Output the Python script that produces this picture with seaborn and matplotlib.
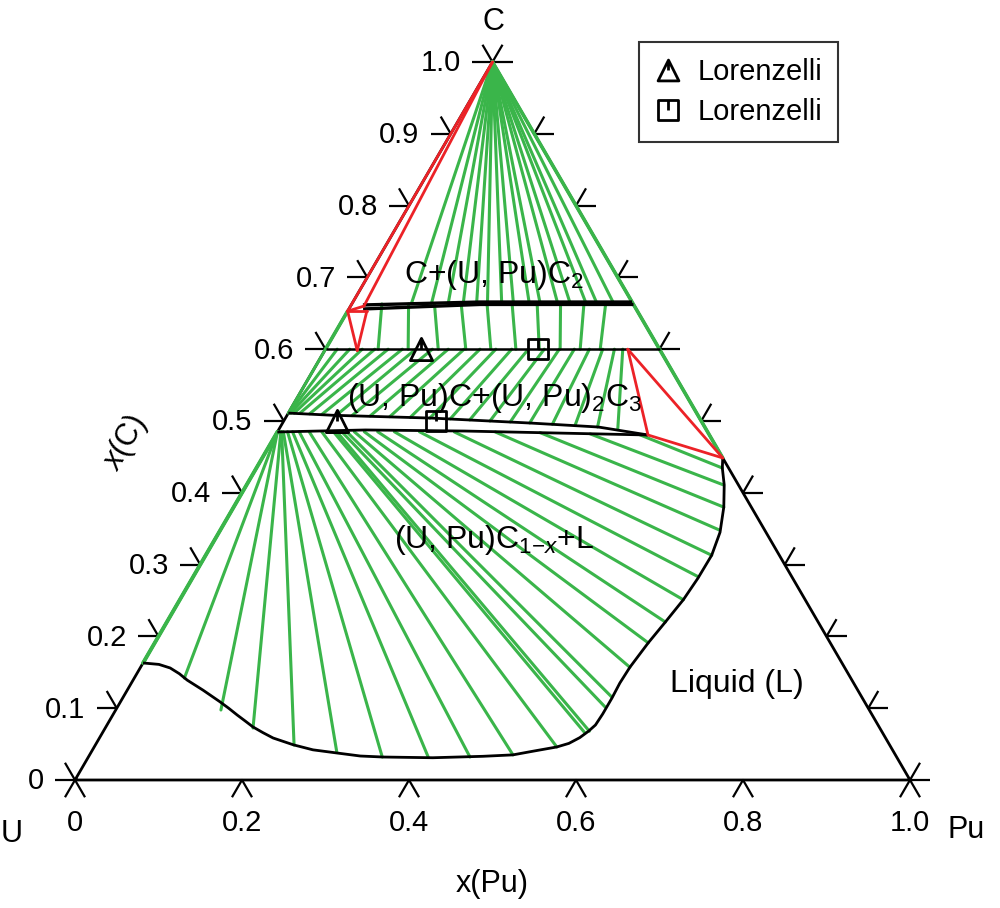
import numpy as np
import pandas as pd
import matplotlib
matplotlib.use("Agg")
import matplotlib.pyplot as plt
from matplotlib.path import Path
from matplotlib.lines import Line2D
import seaborn as sns

# ---------------- data: compositions (x(Pu), x(C)) ----------------
apex_xpu, apex_xc = 0.0, 1.0

# C + (U,Pu)C2 tie-lines (from pure C to the dicarbide line)
c2fan_xpu = [0.071, 0.095, 0.115, 0.133, 0.149, 0.162, 0.179, 0.193,
             0.212, 0.225, 0.246, 0.261, 0.280, 0.293, 0.313]
c2_xc = 0.664

# (U,Pu)C2 phase band (upper / lower boundary)
c2_up_xpu = [0.014, 0.152, 0.3343]
c2_up_xc = [0.6616, 0.6657, 0.6657]
c2_lo_xpu = [0.017, 0.154, 0.3377]
c2_lo_xc = [0.656, 0.6623, 0.6623]

# (U,Pu)C2 + (U,Pu)2C3 tie-lines
c2c3_top_xpu = [0.036, 0.068, 0.099, 0.131, 0.162, 0.192, 0.222, 0.250, 0.278, 0.304]
c2c3_bot_xpu = [0.063, 0.099, 0.135, 0.168, 0.198, 0.228, 0.256, 0.281, 0.305, 0.329]
c3_xc = 0.6

# (U,Pu)C1-x single phase lens
uc_top_xpu = [0.0, 0.054, 0.176, 0.299, 0.381, 0.446]
uc_top_xc = [0.511, 0.508, 0.504, 0.497, 0.4916, 0.4805]
uc_bot_xpu = [0.0, 0.104, 0.224, 0.345, 0.446]
uc_bot_xc = [0.4847, 0.4875, 0.486, 0.483, 0.4805]

# (U,Pu)C + (U,Pu)2C3 tie-lines (lens top -> x(C)=0.6 line)
c3uc_bot_xpu = [0.0, 0.001, 0.003, 0.007, 0.014, 0.026, 0.041, 0.059, 0.078, 0.100, 0.124,
                0.149, 0.173, 0.198, 0.222, 0.247, 0.272, 0.296, 0.324, 0.352, 0.380, 0.406]
c3uc_bot_xc = [0.511, 0.511, 0.511, 0.511, 0.511, 0.510, 0.509, 0.508, 0.5075, 0.507, 0.506,
               0.505, 0.504, 0.503, 0.5015, 0.500, 0.4987, 0.4973, 0.4955, 0.4936, 0.4916, 0.488]
c3uc_top_xpu = [0.0, 0.014, 0.029, 0.044, 0.059, 0.075, 0.092, 0.108, 0.128, 0.147, 0.166,
                0.185, 0.204, 0.223, 0.243, 0.262, 0.280, 0.298, 0.316, 0.332, 0.346, 0.356]

# (U,Pu)C1-x + L tie-lines (lens bottom -> liquidus)
ucl_s_xpu = [0.0, 0.0, 0.0, 0.004, 0.005, 0.007, 0.012, 0.018, 0.026, 0.038, 0.053, 0.067, 0.071,
             0.077, 0.083, 0.092, 0.104, 0.120, 0.140, 0.170, 0.212, 0.261, 0.315, 0.376, 0.436]
ucl_s_xc = [0.485, 0.485, 0.485, 0.485, 0.485, 0.485, 0.485, 0.485, 0.485, 0.485, 0.485, 0.485, 0.485,
            0.485, 0.485, 0.485, 0.485, 0.485, 0.485, 0.485, 0.4847, 0.4847, 0.4838, 0.482, 0.4808]
ucl_e_xpu = [0.0, 0.060, 0.126, 0.177, 0.238, 0.294, 0.352, 0.407, 0.457, 0.507, 0.554, 0.578, 0.582,
             0.584, 0.585, 0.586, 0.591, 0.597, 0.603, 0.605, 0.606, 0.598, 0.587, 0.571, 0.558]
ucl_e_xc = [0.163, 0.142, 0.0975, 0.0724, 0.0487, 0.039, 0.032, 0.032, 0.032, 0.035, 0.046, 0.0655, 0.068,
            0.1017, 0.1156, 0.157, 0.191, 0.220, 0.251, 0.283, 0.313, 0.348, 0.380, 0.411, 0.4345]

# liquidus boundary
liq_xpu = [0.0, 0.020, 0.036, 0.051, 0.065, 0.078, 0.091, 0.105, 0.119, 0.134, 0.149, 0.163, 0.176,
           0.192, 0.208, 0.237, 0.264, 0.295, 0.325, 0.353, 0.413, 0.472, 0.507, 0.528, 0.554, 0.566,
           0.575, 0.581, 0.585, 0.586, 0.586, 0.585, 0.586, 0.591, 0.597, 0.603, 0.6055, 0.606, 0.600,
           0.587, 0.572, 0.558, 0.5515]
liq_xc = [0.163, 0.161, 0.156, 0.148, 0.139, 0.132, 0.125, 0.117, 0.109, 0.100, 0.0905, 0.082, 0.074,
          0.066, 0.0585, 0.049, 0.042, 0.0376, 0.0334, 0.032, 0.031, 0.033, 0.035, 0.040, 0.046, 0.051,
          0.059, 0.068, 0.0766, 0.092, 0.114, 0.135, 0.157, 0.191, 0.220, 0.251, 0.281, 0.313, 0.345,
          0.380, 0.411, 0.4345, 0.4485]

# binary-edge tie segments (green)
edge_a_xpu = [0.0, 0.0]
edge_a_xc = [0.6, 0.653]
edge_b_xpu = [0.0, 0.5515]
edge_b_xc = [1.0, 0.4485]

# three-phase triangles (red): lists of segments
red_seg_xpu = [(0.0, 0.0), (0.0, 0.016), (0.0, 0.016), (0.0, 0.023), (0.0, 0.039), (0.023, 0.039),
               (0.362, 0.446), (0.362, 0.5515), (0.446, 0.5515)]
red_seg_xc = [(1.0, 0.653), (1.0, 0.660), (0.653, 0.660), (0.653, 0.653), (0.653, 0.598), (0.653, 0.598),
              (0.6, 0.4805), (0.6, 0.4485), (0.4805, 0.4485)]

# Lorenzelli experimental points
tri_xpu = [0.114, 0.064]
tri_xc = [0.6, 0.5]
sq_xpu = [0.254, 0.182]
sq_xc = [0.6, 0.5]

left_ticks = [0.0, 0.1, 0.2, 0.3, 0.4, 0.5, 0.6, 0.7, 0.8, 0.9, 1.0]
left_labels = ["0", "0.1", "0.2", "0.3", "0.4", "0.5", "0.6", "0.7", "0.8", "0.9", "1.0"]
bottom_ticks = [0.0, 0.2, 0.4, 0.6, 0.8, 1.0]
bottom_labels = ["0", "0.2", "0.4", "0.6", "0.8", "1.0"]

# ---------------- helpers ----------------
H = np.sqrt(3) / 2


def cart(xpu, xc):
    xpu = np.asarray(xpu, float)
    xc = np.asarray(xc, float)
    return xpu + 0.5 * xc, H * xc


GREEN = "#3AB54A"
RED = "#EC2227"

sns.set_theme(style="white")
plt.rcParams["font.family"] = ["Liberation Sans", "DejaVu Sans"]
plt.rcParams["text.color"] = "black"
plt.rcParams["mathtext.fontset"] = "custom"
plt.rcParams["mathtext.rm"] = "Liberation Sans"
plt.rcParams["mathtext.it"] = "Liberation Sans:italic"
plt.rcParams["mathtext.bf"] = "Liberation Sans:bold"

fig = plt.figure(figsize=(10, 9.08), dpi=100)
ax = fig.add_axes([0, 0, 1, 1])
ax.set_xlim(-75 / 835, 925 / 835)
ax.set_ylim(-128 / 829.1, 780 / 829.1)
ax.axis("off")

# ---------------- tie-lines via seaborn ----------------
rows = []


def add_ties(name, x1, c1, x2, c2):
    for i, (a, b, c, d) in enumerate(zip(x1, c1, x2, c2)):
        X, Y = cart([a, c], [b, d])
        rows.append({"tie": f"{name}{i}", "X": X[0], "Y": Y[0]})
        rows.append({"tie": f"{name}{i}", "X": X[1], "Y": Y[1]})


n = len(c2fan_xpu)
add_ties("cfan", [apex_xpu] * n, [apex_xc] * n, c2fan_xpu, [c2_xc] * n)
n = len(c2c3_top_xpu)
add_ties("c2c3", c2c3_top_xpu, [c2_xc - 0.001] * n, c2c3_bot_xpu, [c3_xc] * n)
n = len(c3uc_top_xpu)
add_ties("c3uc", c3uc_bot_xpu, c3uc_bot_xc, c3uc_top_xpu, [c3_xc] * n)
add_ties("ucl", ucl_s_xpu, ucl_s_xc, ucl_e_xpu, ucl_e_xc)
ties = pd.DataFrame(rows)

# triangle outline
tX, tY = cart([0, 1, 0, 0], [0, 0, 1, 0])
ax.plot(tX, tY, color="black", lw=2.0, zorder=1, solid_joinstyle="miter")

sns.lineplot(data=ties, x="X", y="Y", units="tie", estimator=None, sort=False,
             color=GREEN, lw=2.2, ax=ax, legend=False, zorder=2)

for xs, cs in [(edge_a_xpu, edge_a_xc), (edge_b_xpu, edge_b_xc)]:
    X, Y = cart(xs, cs)
    ax.plot(X, Y, color=GREEN, lw=2.6, zorder=2)
X, Y = cart([ucl_s_xpu[0], ucl_e_xpu[0]], [ucl_s_xc[0], ucl_e_xc[0]])
ax.plot(X, Y, color=GREEN, lw=2.8, zorder=2)

# ---------------- black phase boundaries ----------------
for xs, cs, lw in [(c2_up_xpu, c2_up_xc, 2.4), (c2_lo_xpu, c2_lo_xc, 2.4),
                   (uc_top_xpu, uc_top_xc, 2.0), (uc_bot_xpu, uc_bot_xc, 2.0),
                   (liq_xpu, liq_xc, 2.0), ([0.0, 0.4], [c3_xc, c3_xc], 1.8)]:
    X, Y = cart(xs, cs)
    ax.plot(X, Y, color="black", lw=lw, zorder=3, solid_capstyle="butt", solid_joinstyle="round")

# ---------------- red three-phase triangles ----------------
for xs, cs in zip(red_seg_xpu, red_seg_xc):
    X, Y = cart(xs, cs)
    ax.plot(X, Y, color=RED, lw=2.0, zorder=4)

# ---------------- ticks ----------------
L = 0.024
tick_kw = dict(color="black", lw=1.6, zorder=1, solid_capstyle="butt")
for v in left_ticks:
    X0, Y0 = cart(0.0, v)
    ax.plot([X0 - L, X0], [Y0, Y0], **tick_kw)
    ax.plot([X0 - 0.5 * L, X0], [Y0 + H * L, Y0], **tick_kw)
    X1, Y1 = cart(1.0 - v, v)
    ax.plot([X1, X1 + L], [Y1, Y1], **tick_kw)
    ax.plot([X1, X1 + 0.5 * L], [Y1, Y1 + H * L], **tick_kw)
for u in bottom_ticks:
    X0, Y0 = cart(u, 0.0)
    ax.plot([X0 - 0.5 * L, X0, X0 + 0.5 * L], [Y0 - H * L, Y0, Y0 - H * L], **tick_kw)

FS = 21
FS2 = 23
for v, lab in zip(left_ticks, left_labels):
    X0, Y0 = cart(0.0, v)
    ax.annotate(lab, (X0, Y0), xytext=(-22.5, -1), textcoords="offset points",
                ha="right", va="center", fontsize=FS)
for u, lab in zip(bottom_ticks, bottom_labels):
    X0, Y0 = cart(u, 0.0)
    ax.annotate(lab, (X0, Y0), xytext=(0, -31), textcoords="offset points",
                ha="center", va="center", fontsize=FS)

# ---------------- markers ----------------
tri_marker = Path([(-1, -1), (1, -1), (0, 1), (-1, -1), (0, 1), (0, 0)],
                  [Path.MOVETO, Path.LINETO, Path.LINETO, Path.CLOSEPOLY, Path.MOVETO, Path.LINETO])
sq_marker = Path([(-1, -1), (1, -1), (1, 1), (-1, 1), (-1, -1), (0, 1), (0, 0)],
                 [Path.MOVETO, Path.LINETO, Path.LINETO, Path.LINETO, Path.CLOSEPOLY, Path.MOVETO, Path.LINETO])
mk = dict(ls="none", mfc="none", mec="black", mew=2.0, zorder=5)
X, Y = cart(tri_xpu, tri_xc)
ax.plot(X, Y, marker=tri_marker, ms=16, **mk)
X, Y = cart(sq_xpu, sq_xc)
ax.plot(X, Y, marker=sq_marker, ms=15, **mk)

handles = [Line2D([], [], marker=tri_marker, ms=15, **mk),
           Line2D([], [], marker=sq_marker, ms=14, **mk)]
leg = ax.legend(handles, ["Lorenzelli", "Lorenzelli"], loc="upper right",
                bbox_to_anchor=(0.838, 1 - 42 / 908), bbox_transform=fig.transFigure,
                frameon=True, fancybox=False, edgecolor="black", fontsize=FS,
                handlelength=0.9, handletextpad=0.55, borderpad=0.55, labelspacing=0.42,
                borderaxespad=0)
leg.get_frame().set_linewidth(1.5)

# ---------------- texts ----------------
FS3 = 22
fig.text(0.493, 0.967, "C", fontsize=FS3, ha="center", va="baseline")
fig.text(0.012, 0.0727, "U", fontsize=FS3, ha="center", va="baseline")
fig.text(0.966, 0.0771, "Pu", fontsize=FS3, ha="center", va="baseline")
fig.text(0.492, 0.0176, "x(Pu)", fontsize=FS3, ha="center", va="baseline")
fig.text(0.125, 1 - 443 / 908, "$x$(C)", fontsize=FS3, ha="center", va="center", rotation=60)

fig.text(0.494, 1 - 283 / 908, "C+(U, Pu)C$_2$", fontsize=FS2, ha="center", va="baseline")
fig.text(0.494, 1 - 406 / 908, "(U, Pu)C+(U, Pu)$_2$C$_3$", fontsize=FS2, ha="center", va="baseline")
fig.text(0.494, 1 - 548 / 908, r"(U, Pu)C$_{1{-}x}$+L", fontsize=FS2, ha="center", va="baseline")
fig.text(0.737, 1 - 692 / 908, "Liquid (L)", fontsize=FS2, ha="center", va="baseline")

fig.savefig("out.png", dpi=100)
